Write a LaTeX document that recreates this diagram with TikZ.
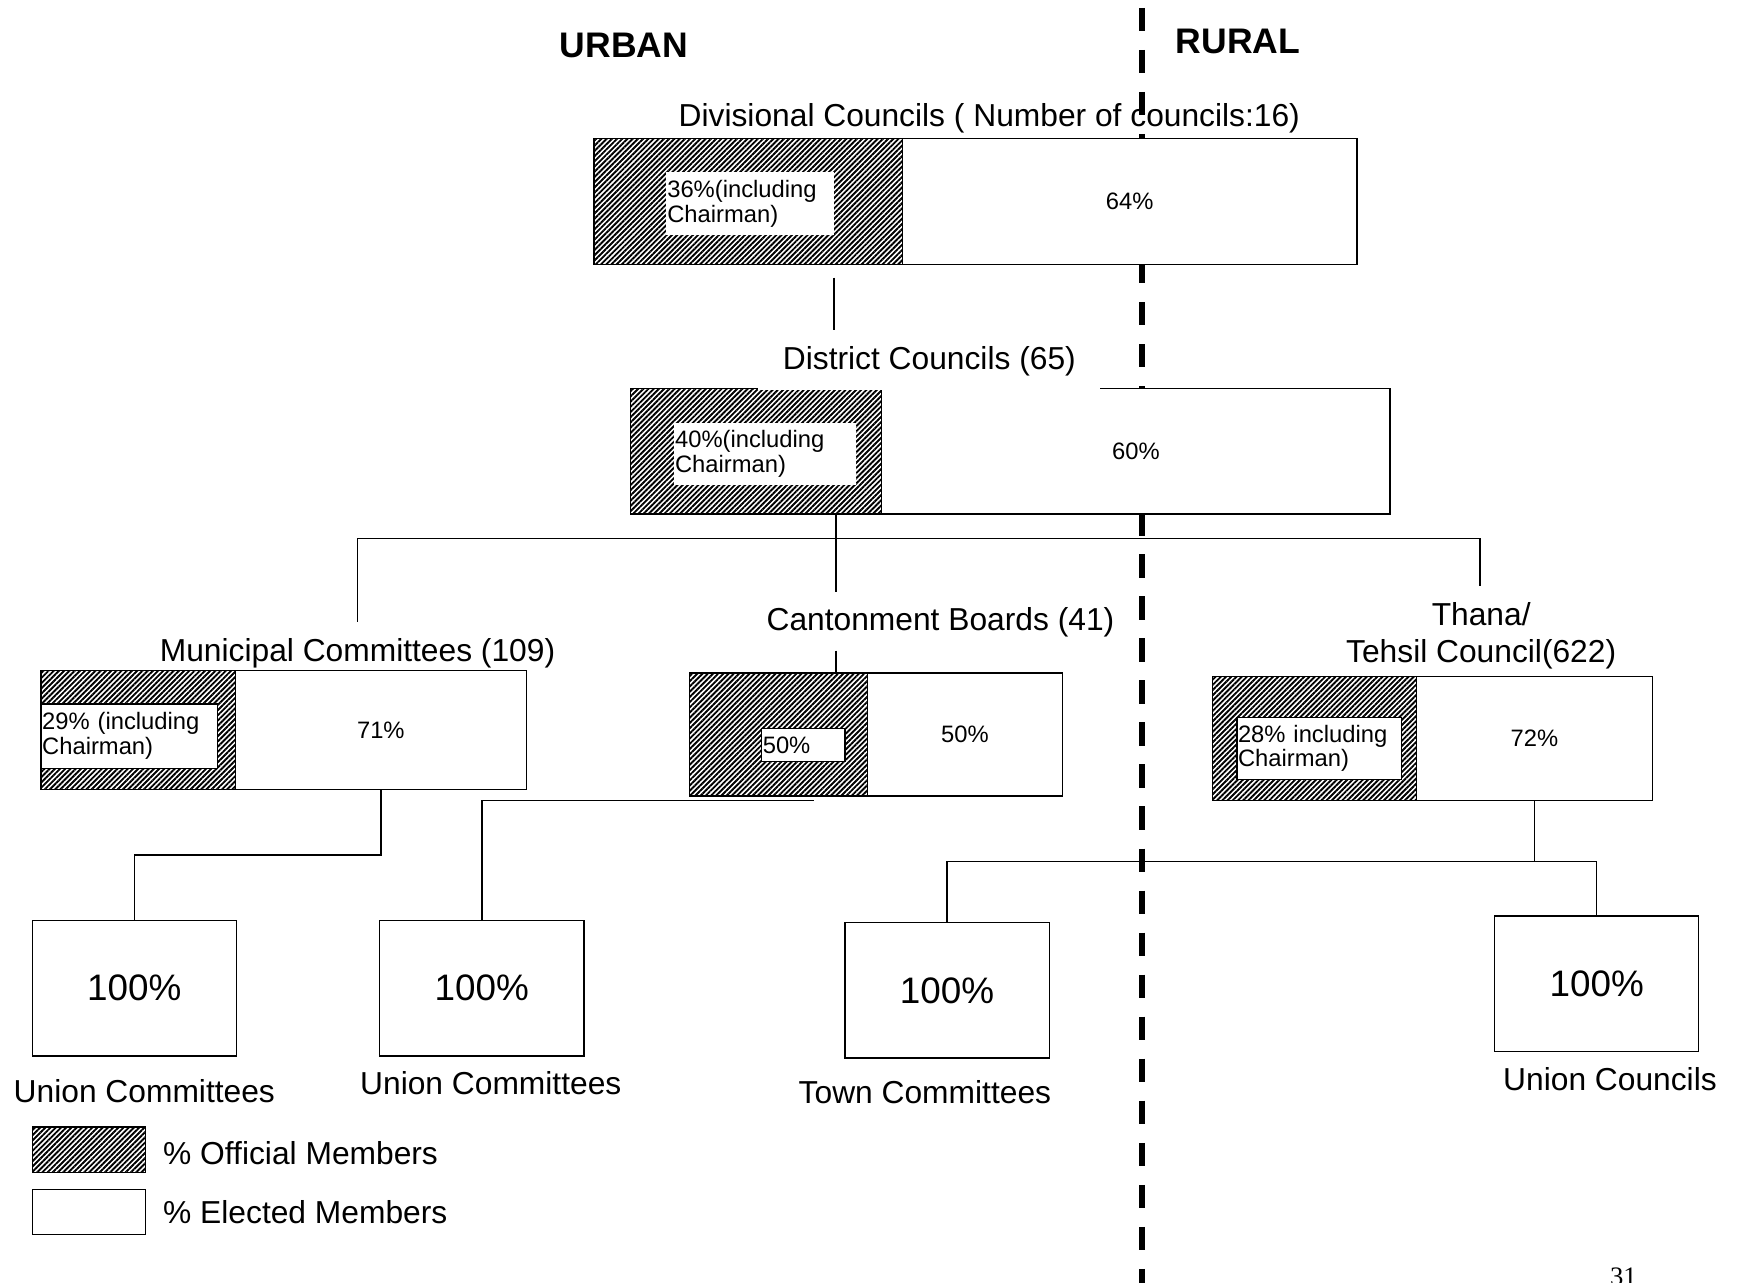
\documentclass[tikz,border=0pt]{standalone}
\usepackage{fontspec}
\setmainfont{Liberation Sans}
\newfontfamily\pnfont{Liberation Serif}
\usetikzlibrary{patterns.meta}
\newcommand\mainfs{\fontsize{14.3pt}{17pt}\selectfont}
\newcommand\smallfs{\fontsize{10.7pt}{11.2pt}\selectfont}
\newcommand\bigfs{\fontsize{16.6pt}{19pt}\selectfont}
\newcommand\headfs{\fontsize{16pt}{19pt}\selectfont\bfseries}
\tikzset{
  every node/.style={inner sep=0pt, outer sep=0pt},
  box/.style={draw, line width=0.6pt, fill=white, anchor=north west},
  hatchbox/.style={draw, line width=0.6pt, anchor=north west,
    pattern={Lines[angle=45,distance=1.66pt,line width=0.85pt]}},
  lbl/.style={fill=white, anchor=north west, align=left, font=\smallfs, inner xsep=0.5pt},
  lblb/.style={lbl, draw, line width=0.6pt},
  title/.style={font=\mainfs, anchor=base},
  head/.style={font=\headfs, anchor=base},
  conn/.style={line width=0.6pt},
  divider/.style={line width=2.85pt, dash pattern=on 10.5pt off 8.43pt}
}
\begin{document}
\begin{tikzpicture}[x=0.5pt,y=-0.5pt]
\useasboundingbox (0,0) rectangle (1568,1155);
\clip (0,0) rectangle (1568,1155);
\fill[white] (0,0) rectangle (1568,1155);

% divider
\coordinate (dtop) at (1028.5,7);
\coordinate (dbot) at (1028.5,1170);
\draw[divider] (dtop) -- (dbot);

% headings
\node[head] (urban) at (562,51.5) {URBAN};
\node[head] (rural) at (1115,48.5) {RURAL};

% Divisional councils
\node[hatchbox, minimum width=139pt, minimum height=56.5pt] (divH) at (535,125) {};
\node[box, minimum width=204.5pt, minimum height=56.5pt, font=\smallfs] (divW) at (813,125) {64\%};
\node[lbl, minimum width=75.5pt, minimum height=28.5pt, text width=74.5pt] (divL) at (600,155) {36\%(including\\Chairman)};
\node[title] (divT) at (891,114) {Divisional Councils ( Number of councils:16)};

\coordinate (dv1) at (751,250);
\coordinate (dv2) at (751,297);
\draw[conn] (dv1) -- (dv2);

% District councils
\node[hatchbox, minimum width=113pt, minimum height=56.5pt] (disH) at (568,350) {};
\node[box, minimum width=229pt, minimum height=56.5pt, font=\smallfs] (disW) at (794,350) {60\%};
\node[lbl, minimum width=82pt, minimum height=28pt, text width=81pt] (disL) at (607,381) {40\%(including\\Chairman)};
\node[title, fill=white, inner xsep=11pt, inner ysep=6pt] (disT) at (837,333) {District Councils (65)};

% bus below district
\coordinate (bus) at (0,485);
\coordinate (mcTop) at (322,560);
\coordinate (thTop) at (1333,528);
\coordinate (cbTop) at (753,533);
\draw[conn] (mcTop) -- (mcTop |- bus) -- (thTop |- bus) -- (thTop);
\draw[conn] (disH.south -| cbTop) -- (cbTop);

% Municipal committees
\node[hatchbox, minimum width=87.5pt, minimum height=53.5pt] (mcH) at (37,604) {};
\node[box, minimum width=131pt, minimum height=53.5pt, font=\smallfs] (mcW) at (212,604) {71\%};
\node[lblb, minimum width=79.5pt, minimum height=29pt, text width=78.5pt] (mcL) at (37,634) {29\% (including\\Chairman)};
\node[title] (mcT) at (322,596) {Municipal Committees (109)};

% Cantonment boards
\node[hatchbox, minimum width=80pt, minimum height=55.5pt] (cbH) at (621,606) {};
\node[box, minimum width=88pt, minimum height=55.5pt, font=\smallfs] (cbW) at (781,606) {50\%};
\node[lblb, minimum width=37.5pt, minimum height=15pt, text width=36.5pt] (cbL) at (686,656) {50\%};
\node[title] (cbT) at (847,568) {Cantonment Boards (41)};
\coordinate (cbTick) at (753,586);
\draw[conn] (cbTick) -- (cbTick |- cbH.north);

% Thana / Tehsil council
\node[hatchbox, minimum width=92pt, minimum height=56pt] (thH) at (1092,609) {};
\node[box, minimum width=106pt, minimum height=56pt, font=\smallfs] (thW) at (1276,609) {72\%};
\node[lblb, minimum width=74pt, minimum height=28pt, text width=73pt] (thL) at (1114,646) {28\% including\\Chairman)};
\node[title] (thT1) at (1334,563) {Thana/};
\node[title] (thT2) at (1334,597) {Tehsil Council(622)};

% bottom boxes
\node[box, minimum width=92pt, minimum height=61pt, font=\bigfs] (uc1) at (29,829) {100\%};
\node[box, minimum width=92pt, minimum height=61pt, font=\bigfs] (uc2) at (342,829) {100\%};
\node[box, minimum width=92pt, minimum height=61pt, font=\bigfs] (tc) at (761,831) {100\%};
\node[box, minimum width=92pt, minimum height=61pt, font=\bigfs] (ucl) at (1346,825) {100\%};

\node[title] (uc1T) at (130,993) {Union Committees};
\node[title] (uc2T) at (442,986) {Union Committees};
\node[title] (tcT) at (833,994) {Town Committees};
\node[title] (uclT) at (1450,982) {Union Councils};

% connectors to bottom boxes
\coordinate (bus3) at (0,770);
\draw[conn] (mcW.south) -- (mcW.south |- bus3) -- (uc1.north |- bus3) -- (uc1.north);
\coordinate (cbEnd) at (733,721);
\draw[conn] (cbEnd) -- (uc2.north |- cbEnd) -- (uc2.north);
\coordinate (bus2) at (0,776);
\draw[conn] (thW.south) -- (thW.south |- bus2);
\draw[conn] (tc.north) -- (tc.north |- bus2) -- (ucl.north |- bus2) -- (ucl.north);

% legend
\node[hatchbox, minimum width=51pt, minimum height=20.5pt] (legH) at (29,1015) {};
\node[box, minimum width=51pt, minimum height=20.5pt] (legW) at (29,1071) {};
\node[title, anchor=base west] (legHT) at (147,1049) {\% Official Members};
\node[title, anchor=base west] (legWT) at (147,1102) {\% Elected Members};

% page number
\node[font=\pnfont\fontsize{12pt}{14pt}\selectfont, anchor=base] (pn) at (1462,1158) {31};
\end{tikzpicture}
\end{document}
